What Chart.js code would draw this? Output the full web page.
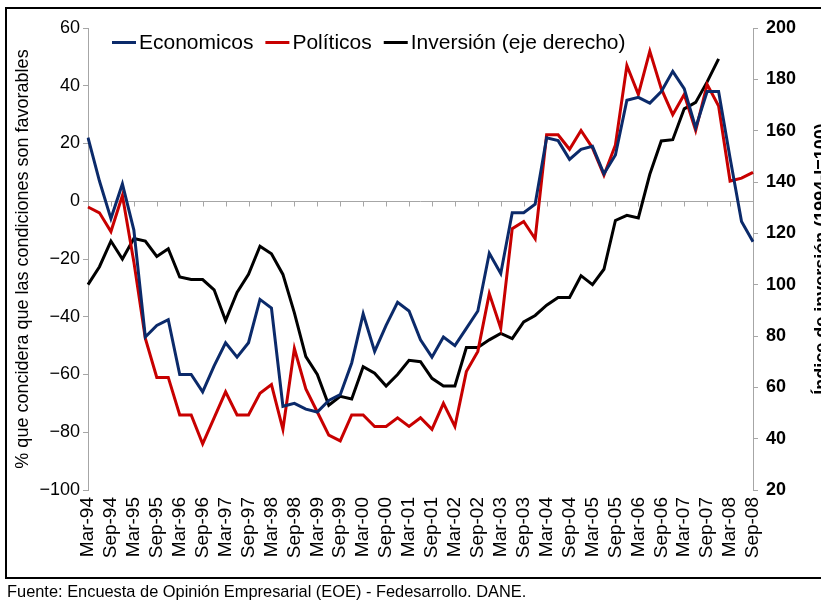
<!DOCTYPE html>
<html><head><meta charset="utf-8">
<script src="https://cdn.jsdelivr.net/npm/chart.js@4/dist/chart.umd.min.js"></script>
<style>
html,body{margin:0;padding:0;background:#fff;overflow:hidden;width:821px;height:601px;}
#wrap{position:absolute;left:0;top:0;width:840px;height:601px;}
#frame{position:absolute;left:5px;top:7px;width:840px;height:568px;border:2px solid #000;border-right:none;pointer-events:none;}
#src{position:absolute;left:7px;top:582px;font:16.4px "Liberation Sans",Arial,sans-serif;color:#000;white-space:nowrap;}
</style></head><body>
<div id="wrap"><canvas id="c" width="840" height="601"></canvas></div>
<div id="frame"></div>
<div id="src">Fuente: Encuesta de Opinión Empresarial (EOE) - Fedesarrollo. DANE.</div>
<script>
const categories = [
 "Mar-94","Jun-94","Sep-94","Dic-94","Mar-95","Jun-95","Sep-95","Dic-95",
 "Mar-96","Jun-96","Sep-96","Dic-96","Mar-97","Jun-97","Sep-97","Dic-97",
 "Mar-98","Jun-98","Sep-98","Dic-98","Mar-99","Jun-99","Sep-99","Dic-99",
 "Mar-00","Jun-00","Sep-00","Dic-00","Mar-01","Jun-01","Sep-01","Dic-01",
 "Mar-02","Jun-02","Sep-02","Dic-02","Mar-03","Jun-03","Sep-03","Dic-03",
 "Mar-04","Jun-04","Sep-04","Dic-04","Mar-05","Jun-05","Sep-05","Dic-05",
 "Mar-06","Jun-06","Sep-06","Dic-06","Mar-07","Jun-07","Sep-07","Dic-07",
 "Mar-08","Jun-08","Sep-08"
];
const economicos = [
 22, 7, -6, 6, -10, -47, -43, -41,
 -60, -60, -66, -57, -49, -54, -49, -34,
 -37, -71, -70, -72, -73, -69, -67, -56,
 -39, -52, -43, -35, -38, -48, -54, -47,
 -50, -44, -38, -18, -25, -4, -4, -1,
 22, 21, 14.5, 18, 19, 9.5, 16, 35,
 36, 34, 38, 45, 39, 25.5, 38, 38,
 15, -7, -14
];
const politicos = [
 -2, -4, -10.5, 2, -21, -47.5, -61, -61,
 -74, -74, -84, -75, -66, -74, -74, -66.5,
 -63.5, -79, -51, -65, -73, -81, -83, -74,
 -74, -78, -78, -75, -78, -75, -79, -70,
 -78, -59, -52, -32, -44, -9.5, -7, -13,
 23, 23, 18, 24.5, 18.5, 9, 19.5, 47,
 37, 52, 39, 30, 37, 24.5, 40.5, 33,
 7, 8, 10
];
const inversion = [
 100, 107, 117, 110, 118, 117, 111, 114,
 103, 102, 102, 98, 86, 97, 104, 115,
 112, 104, 89, 72, 65, 53, 56.5, 55.5,
 68, 65.5, 60.5, 65, 70.5, 70, 63.5, 60.5,
 60.5, 75.5, 75.5, 78.5, 81, 79, 85.5, 88,
 92, 95, 95, 103.5, 100, 106, 125, 127,
 126, 143, 156, 156.5, 168.5, 171, 179, 188
];
const leftTicks = {min: -100, max: 60, step: 20};
const rightTicks = {min: 20, max: 200, step: 20};
const seriesNames = ["Economicos", "Políticos", "Inversión (eje derecho)"];
const leftTitle = "% que concidera que las condiciones son favorables";
const rightTitle = "Índice de inversión (1994-I=100)";

const FONT = '"Liberation Sans", Arial, Helvetica, sans-serif';
const BLUE = '#0b2a6a', RED = '#c80000', BLACK = '#000000', AXIS = '#a6a6a6';
Chart.defaults.font.family = FONT;
Chart.defaults.color = '#000';

const zeroAxis = {
  id: 'zeroAxis',
  beforeDatasetsDraw(chart) {
    const {ctx, chartArea: a, scales: {x, y}} = chart;
    const y0 = Math.round(y.getPixelForValue(0)) + 0.5;
    ctx.save();
    ctx.strokeStyle = AXIS; ctx.lineWidth = 1;
    ctx.beginPath();
    ctx.moveTo(a.left, y0); ctx.lineTo(a.right, y0);
    for (let i = 0; i < categories.length; i += 2) {
      const px = Math.round(x.getPixelForValue(i)) + 0.5;
      ctx.moveTo(px, y0); ctx.lineTo(px, y0 + 5);
    }
    ctx.stroke();
    ctx.restore();
  }
};

const lineLegend = {
  id: 'lineLegend',
  afterDatasetsDraw(chart) {
    const {ctx, chartArea: a} = chart;
    ctx.save();
    ctx.font = '21px ' + FONT;
    ctx.textBaseline = 'middle'; ctx.textAlign = 'left';
    let x = a.left + 24;
    const y = a.top + 14.5;
    chart.data.datasets.forEach(ds => {
      ctx.strokeStyle = ds.borderColor; ctx.lineWidth = 3;
      ctx.beginPath(); ctx.moveTo(x, y); ctx.lineTo(x + 24, y); ctx.stroke();
      ctx.fillStyle = '#000';
      ctx.fillText(ds.label, x + 27, y + 1);
      x += 27 + ctx.measureText(ds.label).width + 12;
    });
    ctx.restore();
  }
};

const rightAxisTitle = {
  id: 'rightAxisTitle',
  afterDraw(chart) {
    const {ctx, chartArea: a} = chart;
    const s = chart.scales.y2;
    ctx.save();
    ctx.translate(s.right - 18, (a.top + a.bottom) / 2);
    ctx.rotate(-Math.PI / 2);
    ctx.font = 'bold 18px ' + FONT;
    ctx.fillStyle = '#000';
    ctx.textAlign = 'center'; ctx.textBaseline = 'middle';
    ctx.fillText(rightTitle, 0, 0);
    ctx.restore();
  }
};

new Chart(document.getElementById('c'), {
  type: 'line',
  data: {
    labels: categories,
    datasets: [
      {label: seriesNames[0], data: economicos, borderColor: BLUE, backgroundColor: BLUE, borderWidth: 3, pointRadius: 0, tension: 0, yAxisID: 'y'},
      {label: seriesNames[1], data: politicos, borderColor: RED, backgroundColor: RED, borderWidth: 3, pointRadius: 0, tension: 0, yAxisID: 'y'},
      {label: seriesNames[2], data: inversion, borderColor: BLACK, backgroundColor: BLACK, borderWidth: 3, pointRadius: 0, tension: 0, yAxisID: 'y2'}
    ]
  },
  options: {
    responsive: false, animation: false, devicePixelRatio: 1,
    layout: {padding: {top: 28, left: 0, right: 0, bottom: 0}},
    plugins: {legend: {display: false}, tooltip: {enabled: false}, title: {display: false}},
    scales: {
      x: {
        type: 'category', offset: false,
        grid: {display: false, drawTicks: false}, border: {display: false},
        ticks: {autoSkip: false, maxRotation: 90, minRotation: 90, padding: 7,
          font: {size: 19}, color: '#000',
          callback: (v, i) => (i % 2 === 0 ? categories[i] : '')},
        afterFit: s => { s.height = 111; }
      },
      y: {
        position: 'left', min: leftTicks.min, max: leftTicks.max,
        ticks: {stepSize: leftTicks.step, font: {size: 18}, color: '#000', padding: 3,
          callback: v => (v < 0 ? '\u2212' + Math.abs(v) : String(v))},
        grid: {drawOnChartArea: false, tickLength: 5, color: AXIS},
        border: {color: AXIS},
        title: {display: true, text: leftTitle, font: {size: 18}, color: '#000', padding: {top: 12, bottom: 0}},
        afterFit: s => { s.width = 88; }
      },
      y2: {
        position: 'right', min: rightTicks.min, max: rightTicks.max,
        ticks: {stepSize: rightTicks.step, font: {size: 18, weight: 'bold'}, color: '#000', padding: 8},
        grid: {drawOnChartArea: false, tickLength: 5, color: AXIS},
        border: {color: AXIS},
        afterFit: s => { s.width = 87; }
      }
    }
  },
  plugins: [zeroAxis, lineLegend, rightAxisTitle]
});
</script>
</body></html>
